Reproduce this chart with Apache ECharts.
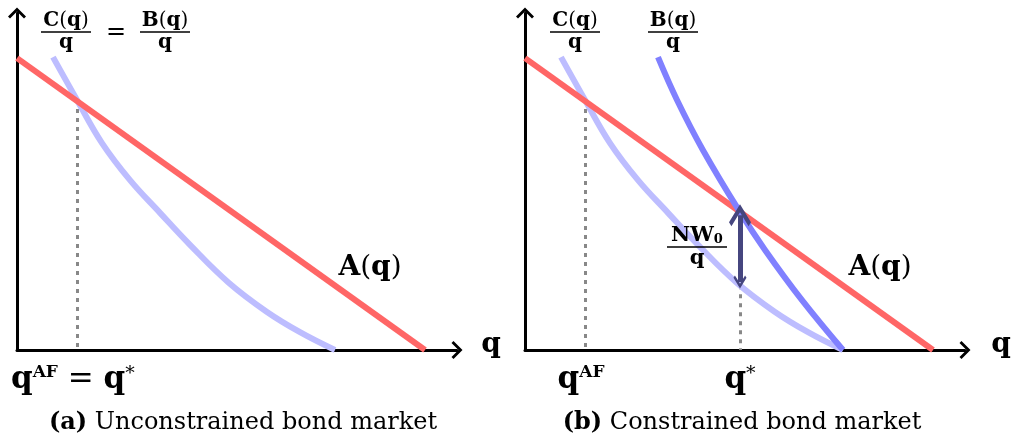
<!DOCTYPE html>
<html>
<head>
<meta charset="utf-8">
<script src="https://cdn.jsdelivr.net/npm/echarts@6/dist/echarts.min.js"></script>
<style>
  html, body { margin: 0; padding: 0; background: #ffffff; }
  #chart { width: 1014px; height: 445px; }
</style>
</head>
<body>
<div id="chart"></div>
<script>
// Axis extents (quantity q on x, value per unit on y), shared by both panels
const Q_MAX = 11;
const V_MAX = 10;

// A(q): downward-sloping straight schedule
const aLine = [[0, 8.66], [10.2, 0]];
// C(q)/q: convex cost-per-unit curve
const cCurve = [[0.9, 8.69], [1.5, 7.42], [2.125, 6.14], [2.825, 5.04], [3.575, 4.07],
                [4.325, 3.12], [5.3, 1.99], [6.25, 1.13], [7.075, 0.53], [7.95, 0]];
// B(q)/q: borrowing-per-unit curve in the constrained market
const bCurve = [[3.325, 8.69], [3.8, 7.42], [4.45, 5.93], [5.375, 4.09],
                [6.0, 2.97], [6.925, 1.48], [7.95, 0]];

// Key quantities and the values where the guides start
const qAF = 1.5, vAF = 7.42;
const qStar = 5.375, vStarBottom = 1.92;
// NW0/q gap arrow, drawn between A(q)=B(q)/q and C(q)/q at q*
const arrowTop = 4.0, arrowBottom = 2.02;

const FONT = '"DejaVu Serif", "Liberation Serif", serif';
const RED = '#ff6666', LIGHT = '#bdbdff', BLUE = '#8080ff', NAVY = '#46467f', GREY = '#888888';
// open chevron used for every arrow head (tip at the top of the path)
const CHEVRON = 'path://M0,9 L9,0 L18,9 L16,11 L9,4 L2,11 Z';

const chart = echarts.init(document.getElementById('chart'), null, { renderer: 'canvas' });

function axisPair(i) {
  const common = {
    gridIndex: i, type: 'value', min: 0,
    axisLine: { show: true, onZero: false, lineStyle: { color: '#000', width: 3 },
                symbol: ['none', CHEVRON], symbolSize: [18, 11] },
    axisTick: { show: false }, axisLabel: { show: false }, splitLine: { show: false }
  };
  return {
    x: Object.assign({}, common, { max: Q_MAX }),
    y: Object.assign({}, common, { max: V_MAX })
  };
}
const ax0 = axisPair(0), ax1 = axisPair(1);

function curve(i, data, color, smooth, z) {
  return { type: 'line', xAxisIndex: i, yAxisIndex: i, data: data, showSymbol: false, symbol: 'none',
           smooth: smooth, z: z,
           lineStyle: { color: color, width: 6, cap: 'butt' }, silent: true };
}
function guide(i, x, yTop, yBottom) {
  return { type: 'lines', coordinateSystem: 'cartesian2d', xAxisIndex: i, yAxisIndex: i, z: 1,
           lineStyle: { color: GREY, width: 3, type: [4, 5], opacity: 1 }, silent: true,
           data: [{ coords: [[x, yTop], [x, yBottom]] }] };
}

function rich(size) {
  return {
    b: { fontFamily: FONT, fontWeight: 'bold', fontSize: size, fill: '#000' },
    r: { fontFamily: FONT, fontWeight: 'normal', fontSize: size, fill: '#000' },
    sup: { fontFamily: FONT, fontWeight: 'bold', fontSize: Math.round(size * 0.55), verticalAlign: 'top', fill: '#000' },
    supr: { fontFamily: FONT, fontWeight: 'normal', fontSize: Math.round(size * 0.6), verticalAlign: 'top', fill: '#000' },
    sub: { fontFamily: FONT, fontWeight: 'bold', fontSize: Math.round(size * 0.6), verticalAlign: 'bottom', fill: '#000' }
  };
}
function text(x, y, str, size, align, vAlign) {
  return { type: 'text', x: x, y: y, z: 100, silent: true,
           style: { text: str, rich: rich(size), fontFamily: FONT, fontSize: size,
                    align: align || 'center', verticalAlign: vAlign || 'middle', fill: '#000' } };
}
function fraction(cx, ruleY, halfW, num, den, size) {
  return [
    text(cx, ruleY - 1, num, size, 'center', 'bottom'),
    { type: 'line', z: 100, silent: true, shape: { x1: cx - halfW, y1: ruleY, x2: cx + halfW, y2: ruleY },
      style: { stroke: '#000', lineWidth: 1.5 } },
    text(cx, ruleY + 1, den, size, 'center', 'top')
  ];
}

const CQ = '{b|C}{r|(}{b|q}{r|)}';
const BQ = '{b|B}{r|(}{b|q}{r|)}';
const Q = '{b|q}';
const AQ = '{b|A}{r|(}{b|q}{r|)}';

const graphics = [].concat(
  // left panel labels
  fraction(66, 32, 25, CQ, Q, 20),
  [text(116, 33, '{r|=}', 24)],
  fraction(165, 32, 25, BQ, Q, 20),
  [text(370, 268, AQ, 28)],
  [text(491, 345, Q, 28)],
  [text(11, 380, '{b|q}{sup|AF}{r| = }{b|q}{supr|*}', 31, 'left')],
  [text(243, 423, '{b|(a)}{r| Unconstrained bond market}', 24)],
  // right panel labels
  fraction(575, 32, 25, CQ, Q, 20),
  fraction(673, 32, 25, BQ, Q, 20),
  fraction(697, 247, 30, '{b|NW}{sub|0}', Q, 21),
  [text(880, 268, AQ, 28)],
  [text(1001, 345, Q, 28)],
  [text(581, 380, '{b|q}{sup|AF}', 31)],
  [text(740, 380, '{b|q}{supr|*}', 31)],
  [text(742, 423, '{b|(b)}{r| Constrained bond market}', 24)]
);

chart.setOption({
  animation: false,
  backgroundColor: '#ffffff',
  grid: [
    { left: 17, top: 13, width: 440, height: 337 },
    { left: 525, top: 13, width: 440, height: 337 }
  ],
  xAxis: [ax0.x, ax1.x],
  yAxis: [ax0.y, ax1.y],
  series: [
    // unconstrained market
    guide(0, qAF, vAF, 0),
    curve(0, cCurve, LIGHT, 0.4, 2),
    curve(0, aLine, RED, false, 3),
    // constrained market
    guide(1, qAF, vAF, 0),
    guide(1, qStar, vStarBottom, 0),
    curve(1, cCurve, LIGHT, 0.4, 2),
    curve(1, aLine, RED, false, 3),
    curve(1, bCurve, BLUE, 0.4, 4),
    { type: 'lines', coordinateSystem: 'cartesian2d', xAxisIndex: 1, yAxisIndex: 1, z: 5, silent: true,
      symbol: [CHEVRON, CHEVRON], symbolSize: [22, 13],
      lineStyle: { color: NAVY, width: 5, opacity: 1 },
      data: [{ coords: [[qStar, arrowTop], [qStar, arrowBottom]] }] }
  ],
  graphic: graphics
});
</script>
</body>
</html>
